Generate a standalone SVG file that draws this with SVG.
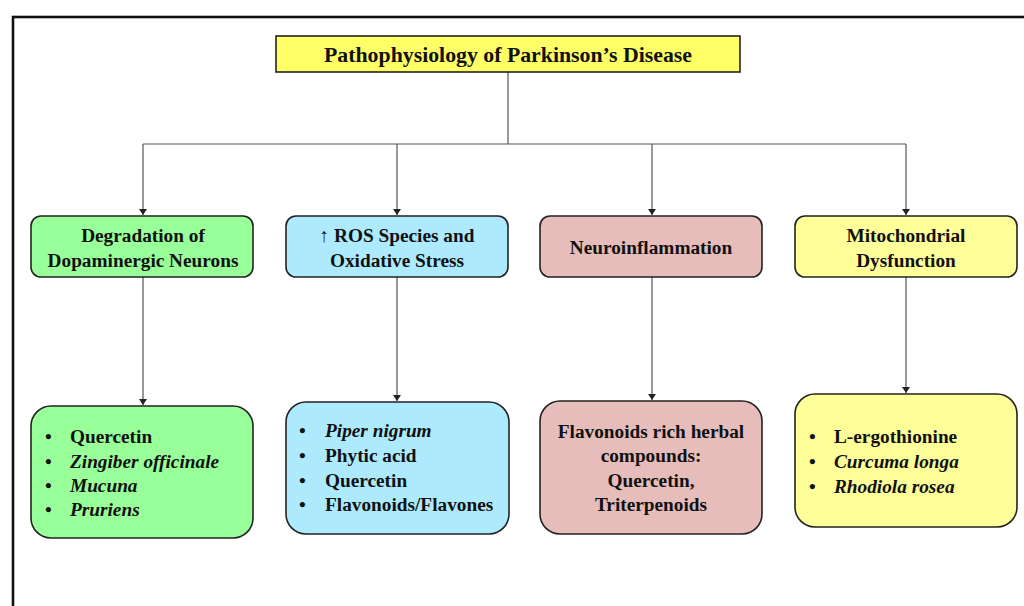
<svg xmlns="http://www.w3.org/2000/svg" width="1024" height="606" viewBox="0 0 1024 606">
<style>
text{font-family:"Liberation Serif","Times New Roman",serif;font-weight:bold;fill:#111;}
.t{font-size:21.8px;}
.h{font-size:19.3px;}
.b{font-size:19.3px;}
.i{font-style:italic;}
.box{stroke:#222;stroke-width:1.6;}
.conn{stroke:#555;stroke-width:1.2;fill:none;}
</style>
<defs>
<marker id="arr" markerWidth="8" markerHeight="8" refX="6" refY="4" orient="auto" markerUnits="userSpaceOnUse">
<path d="M0,0 L6,4 L0,8 z" fill="#222"/>
</marker>
</defs>
<rect width="1024" height="606" fill="#fff"/>
<rect x="13" y="17" width="1030" height="620" fill="none" stroke="#111" stroke-width="2.6"/>

<g id="connectors">
<path class="conn" d="M508,72 V144"/>
<path class="conn" d="M143,144 H906"/>
<path class="conn" d="M143,144 V215" marker-end="url(#arr)"/>
<path class="conn" d="M397,144 V215" marker-end="url(#arr)"/>
<path class="conn" d="M652,144 V215" marker-end="url(#arr)"/>
<path class="conn" d="M906,144 V215" marker-end="url(#arr)"/>
<path class="conn" d="M143,277 V405" marker-end="url(#arr)"/>
<path class="conn" d="M397,277 V401" marker-end="url(#arr)"/>
<path class="conn" d="M652,277 V400" marker-end="url(#arr)"/>
<path class="conn" d="M906,277 V393" marker-end="url(#arr)"/>
</g>

<g id="title">
<rect class="box" x="276" y="36" width="464" height="36" fill="#ffff66"/>
<text class="t" x="508" y="62" text-anchor="middle">Pathophysiology of Parkinson’s Disease</text>
</g>

<g id="degradation">
<rect class="box" x="31" y="216" width="222" height="61" rx="10" fill="#99ff99"/>
<text class="h" x="143" y="242" text-anchor="middle">Degradation of</text>
<text class="h" x="143" y="267" text-anchor="middle">Dopaminergic Neurons</text>
</g>

<g id="ros">
<rect class="box" x="286" y="216" width="222" height="61" rx="10" fill="#aeeafe"/>
<text class="h" x="397" y="242" text-anchor="middle">↑ ROS Species and</text>
<text class="h" x="397" y="267" text-anchor="middle">Oxidative Stress</text>
</g>

<g id="neuroinflammation">
<rect class="box" x="540" y="216" width="222" height="61" rx="10" fill="#e6bdba"/>
<text class="h" x="651" y="254" text-anchor="middle">Neuroinflammation</text>
</g>

<g id="mitochondrial">
<rect class="box" x="795" y="216" width="222" height="61" rx="10" fill="#ffff99"/>
<text class="h" x="906" y="242" text-anchor="middle">Mitochondrial</text>
<text class="h" x="906" y="267" text-anchor="middle">Dysfunction</text>
</g>

<g id="degradation-remedies">
<rect class="box" x="31" y="406" width="222" height="132" rx="20" fill="#99ff99"/>
<text class="b" x="45" y="443">•</text><text class="b" x="70" y="443">Quercetin</text>
<text class="b" x="45" y="468">•</text><text class="b i" x="70" y="468">Zingiber officinale</text>
<text class="b" x="45" y="492">•</text><text class="b i" x="70" y="492">Mucuna</text>
<text class="b" x="45" y="516">•</text><text class="b i" x="70" y="516">Pruriens</text>
</g>

<g id="ros-remedies">
<rect class="box" x="286" y="402" width="223" height="132" rx="20" fill="#aeeafe"/>
<text class="b" x="299" y="437">•</text><text class="b i" x="325" y="437">Piper nigrum</text>
<text class="b" x="299" y="462">•</text><text class="b" x="325" y="462">Phytic acid</text>
<text class="b" x="299" y="487">•</text><text class="b" x="325" y="487">Quercetin</text>
<text class="b" x="299" y="511">•</text><text class="b" x="325" y="511">Flavonoids/Flavones</text>
</g>

<g id="neuroinflammation-remedies">
<rect class="box" x="540" y="401" width="222" height="133" rx="20" fill="#e6bdba"/>
<text class="b" x="651" y="438" text-anchor="middle">Flavonoids rich herbal</text>
<text class="b" x="651" y="462" text-anchor="middle">compounds:</text>
<text class="b" x="651" y="487" text-anchor="middle">Quercetin,</text>
<text class="b" x="651" y="511" text-anchor="middle">Triterpenoids</text>
</g>

<g id="mitochondrial-remedies">
<rect class="box" x="795" y="394" width="222" height="133" rx="20" fill="#ffff99"/>
<text class="b" x="809" y="443">•</text><text class="b" x="834" y="443">L-ergothionine</text>
<text class="b" x="809" y="468">•</text><text class="b i" x="834" y="468">Curcuma longa</text>
<text class="b" x="809" y="493">•</text><text class="b i" x="834" y="493">Rhodiola rosea</text>
</g>
</svg>
